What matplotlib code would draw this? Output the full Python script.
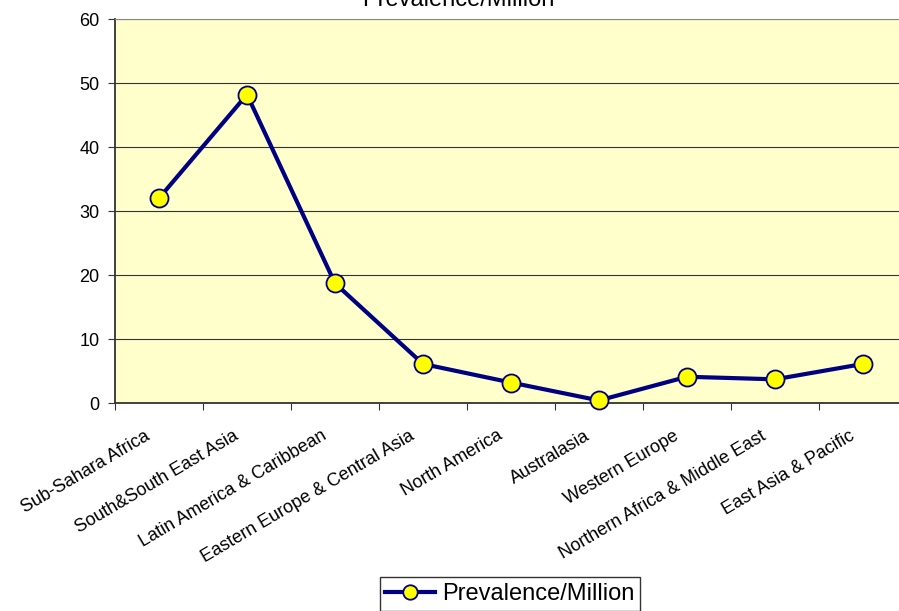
import matplotlib
matplotlib.use("Agg")
import matplotlib.pyplot as plt
import matplotlib.transforms as mtrans
import numpy as np

categories = ["Sub-Sahara Africa", "South&South East Asia", "Latin America & Caribbean",
              "Eastern Europe & Central Asia", "North America", "Australasia",
              "Western Europe", "Northern Africa & Middle East", "East Asia & Pacific"]
values = [32.0, 48.2, 18.7, 6.1, 3.2, 0.4, 4.1, 3.7, 6.1]
yticks = [0, 10, 20, 30, 40, 50, 60]
series_name = "Prevalence/Million"

plt.rcParams['font.family'] = ['Liberation Sans', 'DejaVu Sans']

fig = plt.figure(figsize=(8.99, 6.11), dpi=100)
W, H = 899, 611
ax = fig.add_axes([115 / W, 1 - 403 / H, (907 - 115) / W, (403 - 19) / H])
ax.set_facecolor('#FFFFCC')

x = np.arange(len(categories)) + 0.5
ax.plot(x, values, color='#000080', lw=3, marker='o', markersize=13,
        markerfacecolor='#FFFF00', markeredgecolor='#000080', markeredgewidth=1.3,
        label=series_name, zorder=3, clip_on=False)

ax.set_xlim(0, len(categories))
ax.set_ylim(0, 60)
ax.set_yticks(yticks)
ax.yaxis.grid(True, color='#333333', lw=0.8)
ax.set_axisbelow(True)
ax.tick_params(axis='y', labelsize=13, length=5, color='#333333', pad=6)

ax.set_xticks(np.arange(len(categories) + 1))
ax.set_xticklabels([])
ax.tick_params(axis='x', which='major', length=5, color='#333333')
ax.set_xticks(x, minor=True)
ax.set_xticklabels(categories, minor=True, rotation=30.5, ha='right', va='center',
                   rotation_mode='anchor', fontsize=13)
ax.tick_params(axis='x', which='minor', length=0, pad=22)
off = mtrans.ScaledTranslation(-10 / 100, -1 / 100, fig.dpi_scale_trans)
for lab in ax.get_xticklabels(minor=True):
    lab.set_transform(lab.get_transform() + off)

for s in ['left', 'bottom']:
    ax.spines[s].set_color('#333333')
    ax.spines[s].set_linewidth(1.3)
ax.spines['top'].set_color('#888888')
ax.spines['right'].set_visible(False)

fig.text(458 / W, 1 - 6 / H, series_name, ha='center', va='baseline', fontsize=17)

leg = fig.legend(loc='upper center', bbox_to_anchor=(510 / W, 1 - 577 / H),
                 fontsize=17, frameon=True, fancybox=False, edgecolor='black',
                 borderpad=0.25, handlelength=2.1, handletextpad=0.3, markerscale=0.8,
                 borderaxespad=0)
leg.get_frame().set_linewidth(1.0)

fig.savefig('out.png', dpi=100, facecolor='white')
